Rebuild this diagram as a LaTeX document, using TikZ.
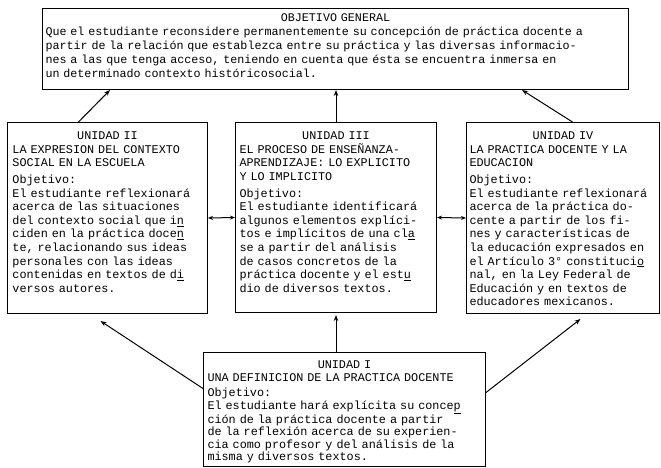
\documentclass[tikz,border=0pt]{standalone}
\usepackage{fontspec}
\newfontfamily\maq{Liberation Mono}
\usetikzlibrary{positioning,arrows.meta}
\tikzset{
  every picture/.style={line width=1pt},
  sbox/.style={draw, anchor=north west, inner sep=0pt},
  stxt/.style={inner sep=0pt, align=left, anchor=north},
  sarr/.style={-{Stealth[length=6pt,width=4.5pt]}},
  sdarr/.style={{Stealth[length=5pt,width=4pt]}-{Stealth[length=5pt,width=4pt]}},
  fgen/.style={font=\maq\fontsize{11.7}{14}\selectfont},
  funi/.style={font=\maq\fontsize{11.8}{13.6}\selectfont},
  fbot/.style={font=\maq\fontsize{11.8}{12.5}\selectfont},
}
\newcommand{\cT}[1]{\makebox[\hsize]{#1}}

\begin{document}
\begin{tikzpicture}[x=1pt,y=-1pt]
\useasboundingbox (0,0) rectangle (661,468);
% marcos
\node[sbox, minimum width=586pt, minimum height=81pt] (gen) at (42,8) {};
\node[sbox, minimum width=200pt, minimum height=191pt] (u2) at (7,122) {};
\node[sbox, minimum width=201pt, minimum height=190pt] (u3) at (235,122) {};
\node[sbox, minimum width=193pt, minimum height=191pt] (u4) at (466,122) {};
\node[sbox, minimum width=282pt, minimum height=114pt] (u1) at (203,352) {};
% textos
\node[stxt, fgen, text width=580pt, below=5pt of gen.north] (gentxt) {\cT{OBJETIVO GENERAL}\\
Que el estudiante reconsidere permanentemente su concepción de práctica docente a\\
partir de la relación que establezca entre su práctica y las diversas informacio-\\
nes a las que tenga acceso, teniendo en cuenta que ésta se encuentra inmersa en\\
un determinado contexto históricosocial.};
\node[stxt, funi, text width=190pt, below=9.5pt of u2.north] (u2txt) {\cT{UNIDAD II}\\
LA EXPRESION DEL CONTEXTO\\
SOCIAL EN LA ESCUELA\\[3pt]
Objetivo:\\
El estudiante reflexionará\\
acerca de las situaciones\\
del contexto social que i\underline{n}\\
ciden en la práctica doce\underline{n}\\
te, relacionando sus ideas\\
personales con las ideas\\
contenidas en textos de d\underline{i}\\
versos autores.};
\node[stxt, funi, text width=193pt, below=9.5pt of u3.north] (u3txt) {\cT{UNIDAD III}\\
EL PROCESO DE ENSEÑANZA-\\
APRENDIZAJE: LO EXPLICITO\\
Y LO IMPLICITO\\[3pt]
Objetivo:\\
El estudiante identificará\\
algunos elementos explíci-\\
tos e implícitos de una cl\underline{a}\\
se a partir del análisis\\
de casos concretos de la\\
práctica docente y el est\underline{u}\\
dio de diversos textos.};
\node[stxt, funi, text width=187pt, below=9.5pt of u4.north] (u4txt) {\cT{UNIDAD IV}\\
LA PRACTICA DOCENTE Y LA\\
EDUCACION\\[3pt]
Objetivo:\\
El estudiante reflexionará\\
acerca de la práctica do-\\
cente a partir de los fi-\\
nes y características de\\
la educación expresados en\\
el Artículo 3° constituci\underline{o}\\
nal, en la Ley Federal de\\
Educación y en textos de\\
educadores mexicanos.};
\node[stxt, fbot, text width=274pt, below=8.5pt of u1.north] (u1txt) {\cT{UNIDAD I}\\
UNA DEFINICION DE LA PRACTICA DOCENTE\\[3pt]
Objetivo:\\
El estudiante hará explícita su conce\underline{p}\\
ción de la práctica docente a partir\\
de la reflexión acerca de su experien-\\
cia como profesor y del análisis de la\\
misma y diversos textos.};
% flechas
\draw[sarr] ([xshift=-29pt]u2.north) -- ([xshift=68pt]gen.south west);
\draw[sarr] (u3.north) -- (u3.north |- gen.south);
\draw[sarr] ([xshift=9.5pt]u4.north) -- ([xshift=-107pt]gen.south east);
\draw[sdarr] (u2.east) -- (u3.west);
\draw[sdarr] (u3.east) -- (u4.west);
\draw[sarr, shorten >=2pt] (u3.south |- u1.north) -- (u3.south);
\draw[sarr] ([yshift=21pt]u1.west) -- ([xshift=-7pt,yshift=-7pt]u2.south);
\draw[sarr] ([yshift=17pt]u1.east) -- ([xshift=17.5pt,yshift=-5pt]u4.south);
\end{tikzpicture}
\end{document}
